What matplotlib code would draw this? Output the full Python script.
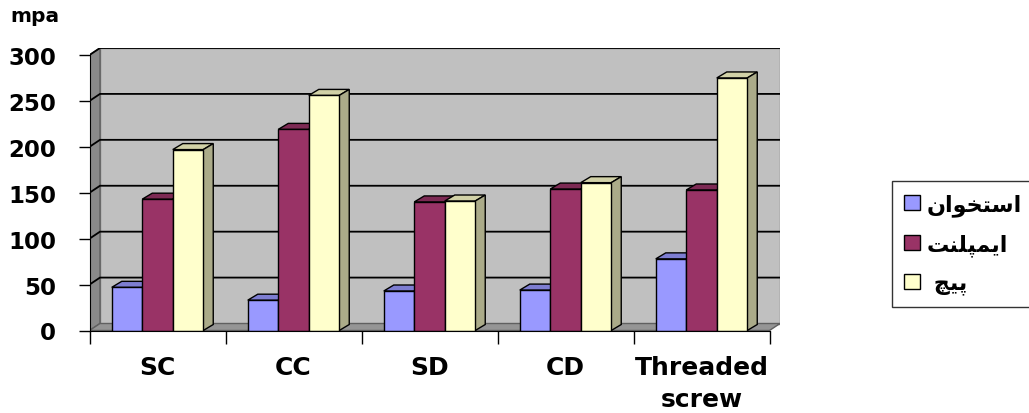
import matplotlib.pyplot as plt
from matplotlib.patches import Polygon, Patch
from matplotlib.colors import to_rgb

# valeurs (mpa) par type de fixation
categories = ["SC", "CC", "SD", "CD", "Threaded\nscrew"]
bone = [47, 33, 43, 44, 78]          # استخوان
implant = [143, 219, 140, 154, 153]  # ایمپلنت
screw = [197, 256, 141, 161, 275]    # پیچ
# noms des séries en formes de présentation arabes (ordre visuel)
series_names = [
    "\uFEE5\uFE8D\uFEEE\uFEA8\uFE98\uFEB3\uFE8D",
    "\uFE96\uFEE8\uFEE0\uFB59\uFEE4\uFBFE\uFE8D",
    " \uFB7B\uFBFF\uFB58",
]
y_ticks = [0, 50, 100, 150, 200, 250, 300]

colors = ["#9999FF", "#993366", "#FFFFCC"]

W, H = 1029, 414
fig = plt.figure(figsize=(W / 100, H / 100), dpi=100)

# cadre du graphe en pixels
x_front0, x_front1 = 89.5, 769.5
y_zero, y_top = 331.5, 56.0
px_cat = (x_front1 - x_front0) / len(categories)
px_val = (y_zero - y_top) / 300.0
# profondeur des murs et des barres
wdx, wdy = 10.5 / px_cat, 7.0 / px_val
bdx, bdy = 10.0 / px_cat, 6.0 / px_val

left = x_front0
right = x_front1 + 10.5
bottom = y_zero
top = y_top - 7.0
ax = fig.add_axes([left / W, 1 - bottom / H, (right - left) / W, (bottom - top) / H])
ax.set_xlim(-0.5, len(categories) - 0.5 + wdx)
ax.set_ylim(0, 300 + wdy)
ax.set_facecolor("none")

xa, xb = -0.5, len(categories) - 0.5
# mur du fond, mur gauche, sol
ax.add_patch(Polygon([(xa + wdx, wdy), (xb + wdx, wdy), (xb + wdx, 300 + wdy), (xa + wdx, 300 + wdy)],
                     closed=True, facecolor="#C0C0C0", edgecolor="#808080", lw=1, zorder=0))
ax.add_patch(Polygon([(xa, 0), (xa + wdx, wdy), (xa + wdx, 300 + wdy), (xa, 300)],
                     closed=True, facecolor="#8a8a8a", edgecolor="#606060", lw=1, zorder=0))
ax.add_patch(Polygon([(xa, 0), (xb, 0), (xb + wdx, wdy), (xa + wdx, wdy)],
                     closed=True, facecolor="#959595", edgecolor="#606060", lw=1, zorder=0))

# lignes de grille sur les murs
for t in y_ticks[1:]:
    ax.plot([xa, xa + wdx, xb + wdx], [t, t + wdy, t + wdy], color="black", lw=1.3, zorder=1,
            solid_capstyle="butt")


def shade(c, f):
    r, g, b = to_rgb(c)
    return (r * f, g * f, b * f)


bw = 30.5 / px_cat
offsets = [-bw, 0, bw]
z = 2
for i in range(len(categories)):
    for s, vals in enumerate([bone, implant, screw]):
        v = vals[i]
        x0 = i + offsets[s] - bw / 2
        x1 = x0 + bw
        c = colors[s]
        ax.add_patch(Polygon([(x0, v), (x1, v), (x1 + bdx, v + bdy), (x0 + bdx, v + bdy)],
                             closed=True, facecolor=shade(c, 0.82), edgecolor="black", lw=1, zorder=z))
        ax.add_patch(Polygon([(x1, 0), (x1, v), (x1 + bdx, v + bdy), (x1 + bdx, bdy)],
                             closed=True, facecolor=shade(c, 0.67), edgecolor="black", lw=1, zorder=z))
        ax.bar(i + offsets[s], v, width=bw, color=c, edgecolor="black", lw=1, zorder=z + 0.5)
        z += 1

# axes
for sp in ["top", "right"]:
    ax.spines[sp].set_visible(False)
ax.spines["left"].set_bounds(0, 300)
ax.spines["bottom"].set_bounds(xa, xb)
ax.spines["left"].set_zorder(50)
ax.spines["bottom"].set_zorder(50)
ax.set_yticks(y_ticks)
ax.set_yticklabels([str(t) for t in y_ticks], fontsize=16.5, fontweight="bold")
ax.tick_params(axis="y", length=8, width=1, pad=16, direction="out")
ax.set_xticks([xa + k for k in range(len(categories) + 1)])
ax.set_xticklabels([])
ax.tick_params(axis="x", which="major", length=9, width=1, direction="out")
ax.set_xticks(range(len(categories)), minor=True)
ax.set_xticklabels(categories, minor=True, fontsize=18, fontweight="bold")
for lbl in ax.get_xticklabels(minor=True):
    lbl.set_linespacing(1.42)
ax.tick_params(axis="x", which="minor", length=0, pad=18)

fig.text(10 / W, 1 - 17 / H, "mpa", fontsize=14.5, fontweight="bold", va="center", ha="left")

handles = [Patch(facecolor=c, edgecolor="black", lw=1) for c in colors]
leg = fig.legend(handles, series_names, loc="upper left", bbox_to_anchor=(892 / W, 1 - 182 / H),
                 borderaxespad=0, frameon=True, fancybox=False, edgecolor="black",
                 handlelength=0.7, handleheight=0.7, handletextpad=0.3, labelspacing=0.78,
                 borderpad=0.55,
                 prop={"family": "DejaVu Sans", "weight": "bold", "size": 16})
leg.get_frame().set_linewidth(1)

fig.savefig("out.png", dpi=100)
